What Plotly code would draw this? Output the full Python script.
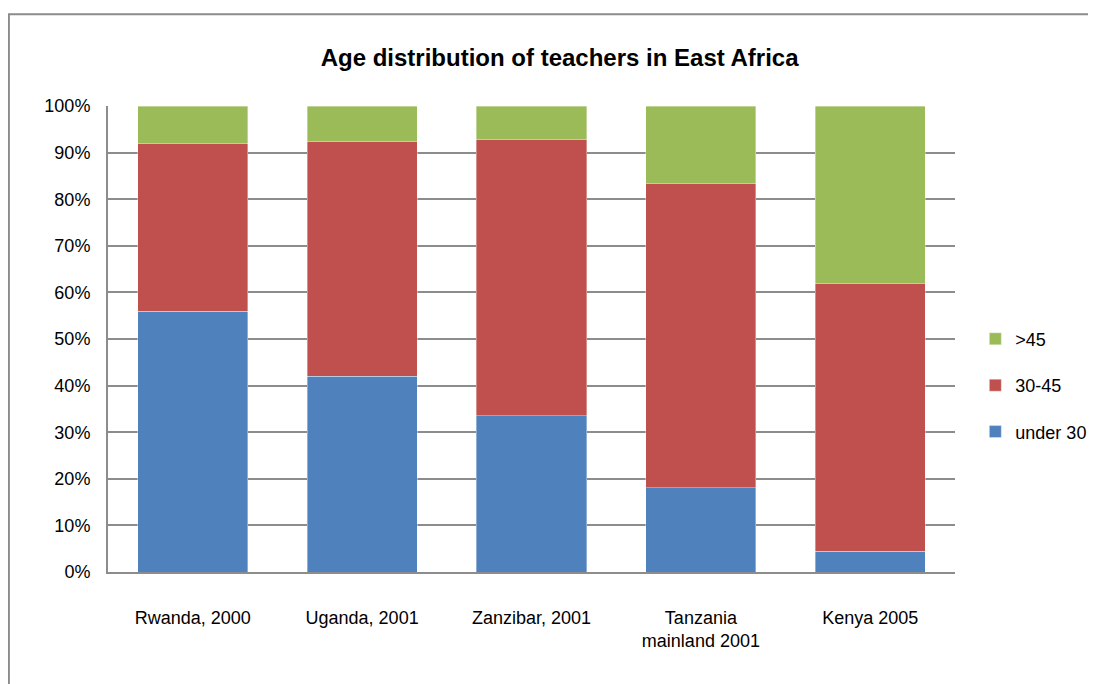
import plotly.graph_objects as go

# data
categories = ["Rwanda, 2000", "Uganda, 2001", "Zanzibar, 2001", "Tanzania<br>mainland 2001", "Kenya 2005"]
under_30 = [0.560, 0.420, 0.335, 0.181, 0.045]
age_30_45 = [0.359, 0.503, 0.593, 0.652, 0.575]
over_45 = [0.081, 0.077, 0.072, 0.167, 0.380]

series = [
    ("under 30", under_30, "#4F81BD", 3),
    ("30-45", age_30_45, "#C0504D", 2),
    (">45", over_45, "#9BBB59", 1),
]

fig = go.Figure()
for name, vals, col, rank in series:
    fig.add_trace(go.Bar(
        x=categories, y=vals, name=name, legendgroup=name, legendrank=rank,
        marker=dict(color=col, line=dict(width=0.6, color="rgba(255,255,255,0.6)")),
    ))

fig.update_layout(
    width=1088, height=676,
    barmode="stack",
    bargap=0.35,
    paper_bgcolor="white",
    plot_bgcolor="white",
    margin=dict(l=100, r=141, t=98, b=112, autoexpand=False),
    title=dict(
        text="<b>Age distribution of teachers in East Africa</b>",
        x=0.507, xanchor="center", y=0.927, yanchor="middle",
        font=dict(family="Liberation Sans, Arial, sans-serif", size=24, color="black"),
    ),
    font=dict(family="Liberation Sans, Arial, sans-serif", size=18, color="black"),
    legend=dict(
        x=1.024, xanchor="left", y=0.40, yanchor="middle",
        traceorder="grouped",
        tracegroupgap=20,
        font=dict(size=18),
    ),
    showlegend=True,
)

fig.update_yaxes(
    range=[0, 1], tickformat=".0%", dtick=0.1,
    showgrid=True, gridcolor="#8C8C8C", gridwidth=2,
    showline=True, linecolor="#8C8C8C", linewidth=2,
    ticks="outside", ticklen=12, tickcolor="white",
    zeroline=False,
)
fig.update_xaxes(
    showline=True, linecolor="#8C8C8C", linewidth=2,
    ticks="outside", ticklen=28, tickcolor="white",
    tickfont=dict(size=18),
)

# chart area border
fig.add_shape(type="rect", xref="paper", yref="paper",
              x0=-0.117, y0=-0.4, x1=1.3, y1=1.197,
              line=dict(color="#8C8C8C", width=2), fillcolor="rgba(0,0,0,0)", layer="below")

fig.write_html("out.html")
